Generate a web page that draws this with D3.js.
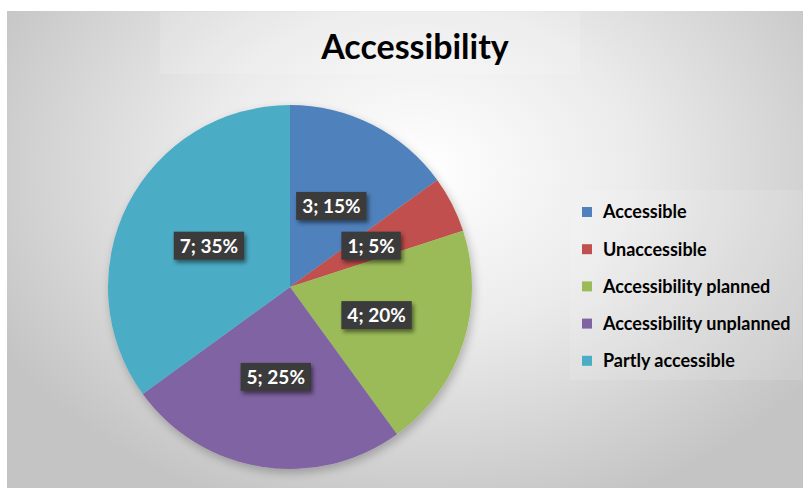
<!DOCTYPE html>
<html><head><meta charset="utf-8">
<script src="https://cdn.jsdelivr.net/npm/d3@7"></script>
<style>html,body{margin:0;padding:0;background:#fff;}svg{display:block;}</style>
</head><body>
<script>
const categories = ["Accessible", "Unaccessible", "Accessibility planned", "Accessibility unplanned", "Partly accessible"];
const values = [3, 1, 4, 5, 7];
const colors = ["#4F81BD", "#C0504D", "#9BBB59", "#8064A2", "#4BACC6"];
const title = "Accessibility";

const W = 803, H = 489;
const svg = d3.select("body").append("svg").attr("width", W).attr("height", H);
const defs = svg.append("defs");

const bg = defs.append("radialGradient").attr("id", "bg")
  .attr("gradientUnits", "userSpaceOnUse").attr("cx", 420).attr("cy", 170).attr("r", 480)
  .attr("gradientTransform", "translate(420,170) scale(1,0.75) translate(-420,-170)");
bg.append("stop").attr("offset", 0).attr("stop-color", "#ffffff");
bg.append("stop").attr("offset", 0.45).attr("stop-color", "#ebebeb");
bg.append("stop").attr("offset", 1).attr("stop-color", "#c4c4c4");

const sh = defs.append("filter").attr("id", "shadow").attr("x", "-20%").attr("y", "-20%").attr("width", "140%").attr("height", "140%");
sh.append("feGaussianBlur").attr("in", "SourceAlpha").attr("stdDeviation", 5);
sh.append("feOffset").attr("dx", 2).attr("dy", 4).attr("result", "b");
sh.append("feComponentTransfer").append("feFuncA").attr("type", "linear").attr("slope", 0.25);
const m = sh.append("feMerge"); m.append("feMergeNode"); m.append("feMergeNode").attr("in", "SourceGraphic");

const bsh = defs.append("filter").attr("id", "bshadow").attr("x", "-30%").attr("y", "-50%").attr("width", "160%").attr("height", "200%");
bsh.append("feGaussianBlur").attr("in", "SourceAlpha").attr("stdDeviation", 2);
bsh.append("feOffset").attr("dx", 2).attr("dy", 3).attr("result", "b");
bsh.append("feComponentTransfer").append("feFuncA").attr("type", "linear").attr("slope", 0.5);
const m2 = bsh.append("feMerge"); m2.append("feMergeNode"); m2.append("feMergeNode").attr("in", "SourceGraphic");

// chart area
svg.append("rect").attr("x", 7).attr("y", 11).attr("width", W - 7).attr("height", H - 12).attr("fill", "url(#bg)");
// subtle title & legend panels
svg.append("rect").attr("x", 160).attr("y", 12).attr("width", 420).attr("height", 62).attr("fill", "#ffffff").attr("opacity", 0.15);
svg.append("rect").attr("x", 570).attr("y", 190).attr("width", 232).attr("height", 190).attr("fill", "#ffffff").attr("opacity", 0.12);

svg.append("text").attr("x", 415).attr("y", 59).attr("text-anchor", "middle")
  .attr("font-family", "Lato, 'Open Sans', sans-serif").attr("font-weight", "bold")
  .attr("font-size", 34).attr("fill", "#000").text(title);

const cx = 290, cy = 287, R = 182;
const pie = d3.pie().sort(null).value(d => d);
const arcs = pie(values);
const total = d3.sum(values);
const arc = d3.arc().innerRadius(0).outerRadius(R);
const labelArc = d3.arc().innerRadius(R * 0.5).outerRadius(R * 0.5);

const g = svg.append("g").attr("transform", `translate(${cx},${cy})`);
g.append("g").attr("filter", "url(#shadow)").selectAll("path").data(arcs).join("path")
  .attr("d", arc).attr("fill", (d, i) => colors[i]);

const lg = g.selectAll("g.lbl").data(arcs).join("g").attr("class", "lbl")
  .attr("transform", d => { const c = labelArc.centroid(d); return `translate(${c[0]},${c[1]})`; });
lg.each(function(d) {
  const s = d3.select(this);
  const txt = `${d.data}; ${Math.round(d.data / total * 100)}%`;
  const rect = s.append("rect").attr("fill", "#3b3b3b").attr("filter", "url(#bshadow)");
  const t = s.append("text").attr("text-anchor", "middle").attr("dy", "0.36em")
    .attr("font-family", "Lato, 'Open Sans', sans-serif").attr("font-weight", "bold")
    .attr("font-size", 19).attr("fill", "#fff").text(txt);
  const bb = t.node().getBBox();
  rect.attr("x", bb.x - 6).attr("y", -14).attr("width", bb.width + 12).attr("height", 28);
});

const leg = svg.append("g").attr("transform", "translate(582,212)");
const li = leg.selectAll("g").data(categories).join("g").attr("transform", (d, i) => `translate(0,${i * 37.2})`);
li.append("rect").attr("x", 0).attr("y", -5).attr("width", 10).attr("height", 10).attr("fill", (d, i) => colors[i]);
li.append("text").attr("x", 21).attr("dy", "0.36em").attr("font-family", "Lato, 'Open Sans', sans-serif")
  .attr("font-weight", "bold").attr("font-size", 18).attr("fill", "#000").text(d => d);
</script>
</body></html>
